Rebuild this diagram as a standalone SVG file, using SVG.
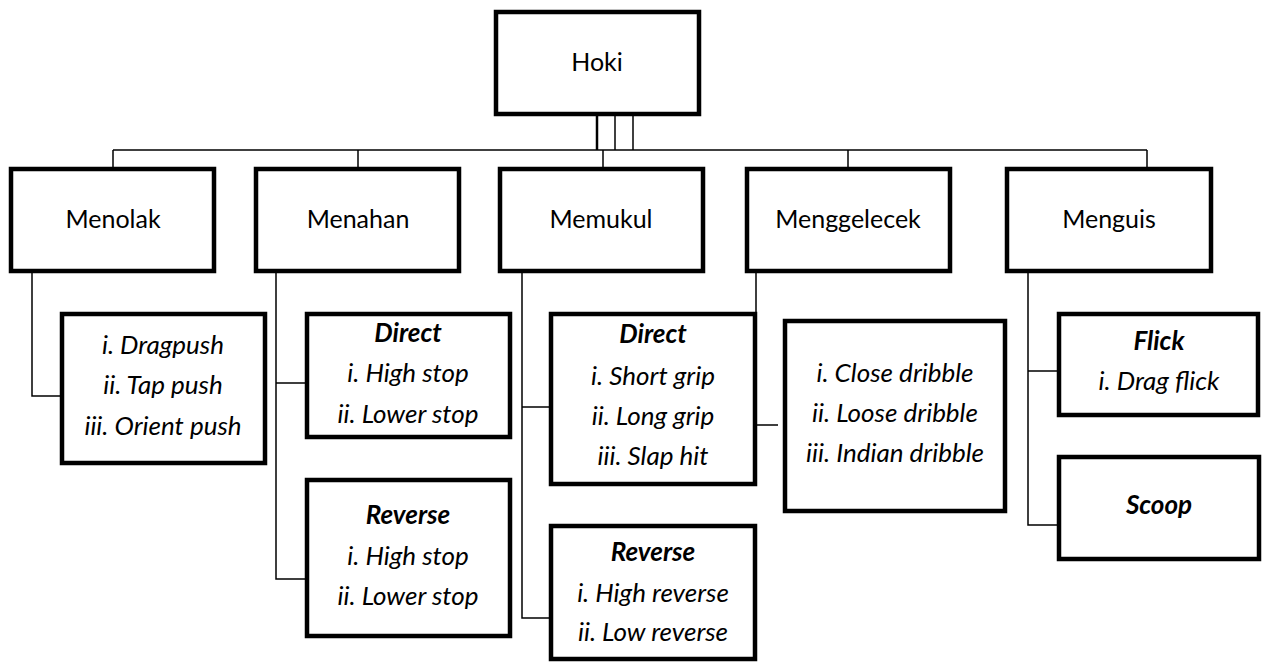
<svg xmlns="http://www.w3.org/2000/svg" width="1262" height="662" viewBox="0 0 1262 662">
<style>
.box{fill:#fff;stroke:#000;stroke-width:4.5}
.ln{fill:none;stroke:#000;stroke-width:1.5}
text{font-family:Lato,"Open Sans","Liberation Sans",sans-serif;font-size:25px;fill:#000;text-anchor:middle}
.it{font-style:italic;font-size:26px}
.bi{font-style:italic;font-weight:bold;font-size:26px}
</style>
<rect width="1262" height="662" fill="#fff"/>
<g id="connectors">
<line class="ln" x1="597" y1="116" x2="597" y2="150" style="stroke-width:2.5"/>
<line class="ln" x1="615" y1="116" x2="615" y2="150"/>
<line class="ln" x1="633" y1="116" x2="633" y2="150"/>
<path class="ln" d="M113 150H1147"/>
<path class="ln" d="M113 150V167M358 150V167M603 150V167M848 150V167M1147 150V167"/>
<path class="ln" d="M32 273V396H61"/>
<path class="ln" d="M276 273V579H305M276 383H305"/>
<path class="ln" d="M522 273V618H549M522 407H549"/>
<path class="ln" d="M756 273V312M757 425H778"/>
<path class="ln" d="M1028 273V525H1057M1028 371H1057"/>
</g>
<g id="hoki"><rect class="box" x="496" y="12" width="203" height="102"/><text x="597" y="71">Hoki</text></g>
<g id="menolak"><rect class="box" x="11" y="169" width="203" height="102"/><text x="113" y="228">Menolak</text></g>
<g id="menahan"><rect class="box" x="256" y="169" width="203" height="102"/><text x="358" y="228">Menahan</text></g>
<g id="memukul"><rect class="box" x="500" y="169" width="203" height="102"/><text x="601" y="228">Memukul</text></g>
<g id="menggelecek"><rect class="box" x="747" y="169" width="203" height="102"/><text x="848" y="228">Menggelecek</text></g>
<g id="menguis"><rect class="box" x="1007" y="169" width="204" height="102"/><text x="1109" y="228">Menguis</text></g>
<g id="menolak-sub"><rect class="box" x="62" y="314" width="203" height="149"/>
<text class="it" x="163" y="354">i. Dragpush</text>
<text class="it" x="163" y="394">ii. Tap push</text>
<text class="it" x="163" y="435">iii. Orient push</text></g>
<g id="menahan-direct"><rect class="box" x="307" y="314" width="203" height="123"/>
<text class="bi" x="408" y="342">Direct</text>
<text class="it" x="408" y="382">i. High stop</text>
<text class="it" x="408" y="423">ii. Lower stop</text></g>
<g id="menahan-reverse"><rect class="box" x="307" y="480" width="203" height="156"/>
<text class="bi" x="408" y="524">Reverse</text>
<text class="it" x="408" y="565">i. High stop</text>
<text class="it" x="408" y="605">ii. Lower stop</text></g>
<g id="memukul-direct"><rect class="box" x="551" y="314" width="204" height="170"/>
<text class="bi" x="653" y="343">Direct</text>
<text class="it" x="653" y="385">i. Short grip</text>
<text class="it" x="653" y="425">ii. Long grip</text>
<text class="it" x="653" y="465">iii. Slap hit</text></g>
<g id="memukul-reverse"><rect class="box" x="551" y="526" width="204" height="133"/>
<text class="bi" x="653" y="561">Reverse</text>
<text class="it" x="653" y="602">i. High reverse</text>
<text class="it" x="653" y="641">ii. Low reverse</text></g>
<g id="dribble"><rect class="box" x="785" y="321" width="220" height="190"/>
<text class="it" x="895" y="382">i. Close dribble</text>
<text class="it" x="895" y="422">ii. Loose dribble</text>
<text class="it" x="895" y="462">iii. Indian dribble</text></g>
<g id="flick"><rect class="box" x="1059" y="314" width="199" height="101"/>
<text class="bi" x="1159" y="350">Flick</text>
<text class="it" x="1159" y="390">i. Drag flick</text></g>
<g id="scoop"><rect class="box" x="1059" y="457" width="200" height="102"/>
<text class="bi" x="1159" y="514">Scoop</text></g>
</svg>
